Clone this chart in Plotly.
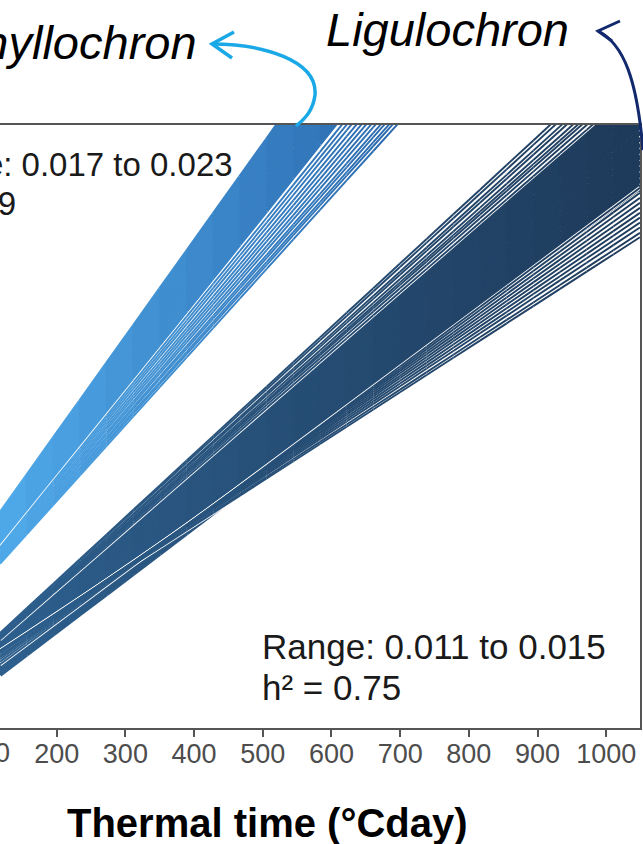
import numpy as np
import plotly.graph_objects as go

# ---------------- data ----------------
x_ticks = [200, 300, 400, 500, 600, 700, 800, 900, 1000]
x_tick_labels = ["200", "300", "400", "500", "600", "700", "800", "900", "1000"]

# Phyllochron: fitted line per genotype (rate, intercept) - core of the bundle
phyllo_core_slopes = [0.02057, 0.02067, 0.02077, 0.02086, 0.02096, 0.02106, 0.02115,
                      0.02125, 0.02135, 0.02144, 0.02154, 0.02164, 0.02173, 0.02183,
                      0.02193, 0.02202, 0.02212, 0.02222, 0.02231, 0.02241, 0.02251,
                      0.02260, 0.02270, 0.02280, 0.02289, 0.02299]
phyllo_core_intercepts = [1.95, 1.98, 2.00, 2.00, 2.04, 2.05, 2.07,
                          2.08, 2.11, 2.11, 2.14, 2.17, 2.17, 2.20,
                          2.23, 2.23, 2.27, 2.28, 2.29, 2.32, 2.33,
                          2.35, 2.38, 2.38, 2.41, 2.43]
# Phyllochron: outlying genotypes (slow side)
phyllo_edge_slopes = [0.01814, 0.01829, 0.01843, 0.01858, 0.01873, 0.01891, 0.01910,
                      0.01928, 0.01947, 0.01967, 0.01987, 0.02007, 0.02028]
phyllo_edge_intercepts = [1.79, 1.81, 1.81, 1.83, 1.83, 1.85, 1.85,
                          1.87, 1.88, 1.89, 1.91, 1.92, 1.93]

# Ligulochron: core of the bundle
ligulo_core_slopes = [0.01243, 0.01248, 0.01252, 0.01257, 0.01262, 0.01267, 0.01272,
                      0.01277, 0.01282, 0.01287, 0.01291, 0.01296, 0.01301, 0.01306,
                      0.01311, 0.01316, 0.01320, 0.01325, 0.01330, 0.01335, 0.01340,
                      0.01345, 0.01350, 0.01354, 0.01359, 0.01364, 0.01369, 0.01374,
                      0.01379, 0.01383, 0.01388, 0.01393, 0.01398, 0.01402, 0.01407,
                      0.01412]
ligulo_core_intercepts = [-0.19, -0.15, -0.17, -0.12, -0.13, -0.08, -0.09,
                          -0.04, -0.05, 0.00, -0.01, 0.04, 0.03, 0.08,
                          0.07, 0.12, 0.10, 0.16, 0.14, 0.20, 0.18,
                          0.24, 0.22, 0.27, 0.26, 0.31, 0.30, 0.35,
                          0.34, 0.38, 0.40, 0.41, 0.44, 0.45, 0.47,
                          0.49]
# Ligulochron: outlying genotypes (fast side, then slow side)
ligulo_edge_slopes = [0.01425, 0.01435, 0.01445, 0.01455, 0.01465, 0.01478, 0.01490,
                      0.01503, 0.01515,
                      0.01060, 0.01072, 0.01085, 0.01100, 0.01115, 0.01130, 0.01148,
                      0.01165, 0.01183, 0.01202, 0.01222]
ligulo_edge_intercepts = [0.44, 0.46, 0.47, 0.46, 0.47, 0.48, 0.47,
                          0.49, 0.49,
                          0.60, 0.58, 0.57, 0.53, 0.49, 0.45, 0.38,
                          0.32, 0.25, 0.17, 0.08]

phyllo_text = ["Range: 0.017 to 0.023", "h² = 0.79"]
ligulo_text = ["Range: 0.011 to 0.015", "h² = 0.75"]

# ---------------- layout geometry / style ----------------
X_MIN, X_MAX = 117.5, 1049.1
Y_MIN, Y_MAX = 0.0, 14.4
W, H = 643, 844
ML, MR, MT, MB = 0, 3, 125, 116
PW, PH = W - ML - MR, H - MT - MB
FONT = "Liberation Sans, Arial, Helvetica, sans-serif"
NSEG = 24


def pxx(xp):
    return (xp - ML) / PW


def pxy(yp):
    return (H - MB - yp) / PH


def mix(c0, c1, f):
    return "rgb(%d,%d,%d)" % tuple(round(a + (b - a) * f) for a, b in zip(c0, c1))


fig = go.Figure()
edges = np.linspace(X_MIN, X_MAX, NSEG + 1)


def add_halo(slopes, intercepts, width):
    xs, ys = [], []
    for s, b in zip(slopes, intercepts):
        xs += [X_MIN, X_MAX, None]
        ys += [s * X_MIN + b, s * X_MAX + b, None]
    fig.add_trace(go.Scatter(x=xs, y=ys, mode="lines",
                             line=dict(color="white", width=width),
                             hoverinfo="skip", showlegend=False))


def add_lines(slopes, intercepts, c_start, c_end, t_end, width):
    for i in range(NSEG):
        a, c = edges[i], edges[i + 1]
        f = min(max(((a + c) / 2 - X_MIN) / (t_end - X_MIN), 0.0), 1.0)
        xs, ys = [], []
        for s, b in zip(slopes, intercepts):
            xs += [a, c, None]
            ys += [s * a + b, s * c + b, None]
        fig.add_trace(go.Scatter(x=xs, y=ys, mode="lines",
                                 line=dict(color=mix(c_start, c_end, f), width=width),
                                 hoverinfo="skip", showlegend=False))


LIG0, LIG1, LIGT = (46, 96, 142), (30, 58, 90), 1049.0
PHY0, PHY1, PHYT = (80, 170, 234), (40, 102, 170), 720.0

add_lines(ligulo_core_slopes, ligulo_core_intercepts, LIG0, LIG1, LIGT, 4.2)
add_lines(phyllo_core_slopes, phyllo_core_intercepts, PHY0, PHY1, PHYT, 3.6)
add_halo(ligulo_edge_slopes, ligulo_edge_intercepts, 3.6)
add_lines(ligulo_edge_slopes, ligulo_edge_intercepts, LIG0, LIG1, LIGT, 1.9)
add_halo(phyllo_edge_slopes, phyllo_edge_intercepts, 3.6)
add_lines(phyllo_edge_slopes, phyllo_edge_intercepts, PHY0, PHY1, PHYT, 1.9)

annotations = []
# partially visible "100" tick label at the left edge
annotations.append(dict(text="100", xref="paper", yref="paper",
                        x=(100 - X_MIN) / (X_MAX - X_MIN), y=pxy(753),
                        xanchor="center", yanchor="middle", showarrow=False,
                        font=dict(family=FONT, size=27, color="#4d4d4d")))
# axis title
annotations.append(dict(text="<b>Thermal time (°Cday)</b>", xref="paper", yref="paper",
                        x=pxx(267), y=pxy(823), xanchor="center", yanchor="middle",
                        showarrow=False, font=dict(family=FONT, size=40, color="black")))
# series names
annotations.append(dict(text="<i>Ligulochron</i>", xref="paper", yref="paper",
                        x=pxx(447), y=pxy(30), xanchor="center", yanchor="middle",
                        showarrow=False, font=dict(family=FONT, size=47, color="black")))
annotations.append(dict(text="<i>Phyllochron</i>", xref="paper", yref="paper",
                        x=pxx(199), y=pxy(42), xanchor="right", yanchor="middle",
                        showarrow=False, font=dict(family=FONT, size=47, color="black")))
# range / heritability text
for t, yc, xr in zip(phyllo_text, [164, 204], [235, 18]):
    annotations.append(dict(text=t, xref="paper", yref="paper", x=pxx(xr), y=pxy(yc),
                            xanchor="right", yanchor="middle", showarrow=False,
                            font=dict(family=FONT, size=33, color="#1a1a1a")))
for t, yc in zip(ligulo_text, [646, 687]):
    annotations.append(dict(text=t, xref="paper", yref="paper", x=pxx(260), y=pxy(yc),
                            xanchor="left", yanchor="middle", showarrow=False,
                            font=dict(family=FONT, size=35, color="#1a1a1a")))


def P(cmd):
    # convert a path written in pixel units to paper units
    out = []
    for tok in cmd.split():
        if tok.isalpha():
            out.append(tok)
        else:
            xs, ys = tok.split(",")
            out.append("%.5f,%.5f" % (pxx(float(xs)), pxy(float(ys))))
    return " ".join(out)


shapes = [
    dict(type="path", xref="paper", yref="paper",
         path=P("M 212,44 C 262,44 318,60 315,95 C 313,110 306,118 296,126"),
         line=dict(color="#1aa8e6", width=3.5)),
    dict(type="path", xref="paper", yref="paper",
         path=P("M 234,32 L 212,44 L 232,58"),
         line=dict(color="#1aa8e6", width=3.5)),
    dict(type="path", xref="paper", yref="paper",
         path=P("M 598,31 C 624,44 637,80 643,150"),
         line=dict(color="#13296e", width=3)),
    dict(type="path", xref="paper", yref="paper",
         path=P("M 620,21 L 598,31 L 612,41"),
         line=dict(color="#13296e", width=3)),
]

fig.update_layout(
    width=W, height=H,
    margin=dict(l=ML, r=MR, t=MT, b=MB, pad=0),
    paper_bgcolor="white", plot_bgcolor="white",
    showlegend=False,
    xaxis=dict(range=[X_MIN, X_MAX], tickvals=x_ticks, ticktext=x_tick_labels,
               ticks="outside", ticklen=7, tickwidth=1.5, tickcolor="#555555",
               ticklabelstandoff=-6,
               showline=True, mirror=True, linecolor="#555555", linewidth=2,
               showgrid=False, zeroline=False,
               tickfont=dict(family=FONT, size=27, color="#4d4d4d")),
    yaxis=dict(range=[Y_MIN, Y_MAX], showticklabels=False, ticks="",
               showgrid=False, zeroline=False, side="right",
               showline=True, linecolor="#555555", linewidth=2),
    annotations=annotations,
    shapes=shapes,
)

fig.write_html("out.html")
